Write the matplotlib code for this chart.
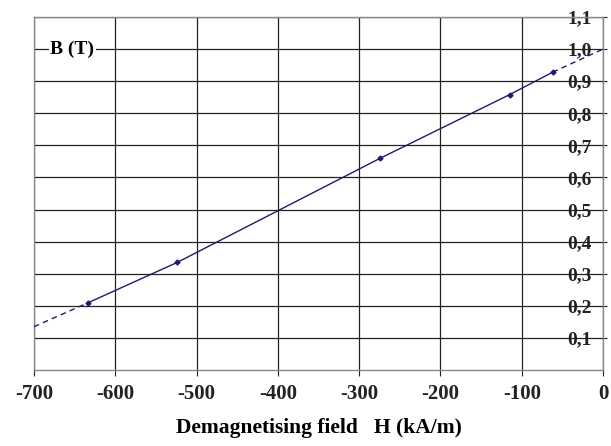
import matplotlib
matplotlib.use("Agg")
import matplotlib.pyplot as plt
from matplotlib.ticker import FixedLocator

# measured points, demagnetising curve
h_points = [-633, -524, -274, -115, -62]
b_points = [0.21, 0.335, 0.66, 0.858, 0.928]

# dashed extrapolation at both ends
h_ext_left = [-700, -633]
b_ext_left = [0.135, 0.21]
h_ext_right = [-62, 0]
b_ext_right = [0.928, 1.0]

x_ticks = [-700, -600, -500, -400, -300, -200, -100, 0]
y_ticks = [0.1, 0.2, 0.3, 0.4, 0.5, 0.6, 0.7, 0.8, 0.9, 1.0, 1.1]
y_labels = ["0,1", "0,2", "0,3", "0,4", "0,5", "0,6", "0,7", "0,8", "0,9", "1,0", "1,1"]

plt.rcParams["font.family"] = ["Liberation Serif", "DejaVu Serif"]
plt.rcParams["font.weight"] = "bold"

fig = plt.figure(figsize=(6.11, 4.46), dpi=100)
ax = fig.add_axes([0.0556, 0.1704, 0.9314, 0.7915])

line_col = "#1c1c6a"
ax.plot(h_points, b_points, color=line_col, lw=1.0, marker="D", ms=2.5, zorder=3)
ax.plot(h_ext_left, b_ext_left, color=line_col, lw=1.0, ls=(0, (4, 3)), zorder=3)
ax.plot(h_ext_right, b_ext_right, color=line_col, lw=1.0, ls=(0, (4, 3)), zorder=3)

ax.set_xlim(-700, 0)
ax.set_ylim(0, 1.1)
ax.set_xticks(x_ticks)
ax.set_xticklabels([str(v) for v in x_ticks], fontsize=15, fontweight="bold")
ax.yaxis.set_major_locator(FixedLocator(y_ticks))
ax.yaxis.tick_right()
ax.set_yticklabels(y_labels, fontsize=14, fontweight="bold")
ax.tick_params(axis="y", direction="out", length=3, pad=-29, colors="#222222")
ax.tick_params(axis="x", direction="out", length=4, pad=6, colors="#222222")
ax.grid(True, color="#222222", lw=0.9)
ax.set_axisbelow(True)
for s in ax.spines.values():
    s.set_color("#888888")
    s.set_linewidth(1.0)

ax.text(-680, 1.0, "B (T)", fontsize=14, fontweight="bold", va="center", ha="left",
        bbox=dict(facecolor="white", edgecolor="none", pad=1))

ax.set_xlabel("Demagnetising field   H (kA/m)", fontsize=15.5, fontweight="bold", labelpad=10)

fig.savefig("out.png", dpi=100)
